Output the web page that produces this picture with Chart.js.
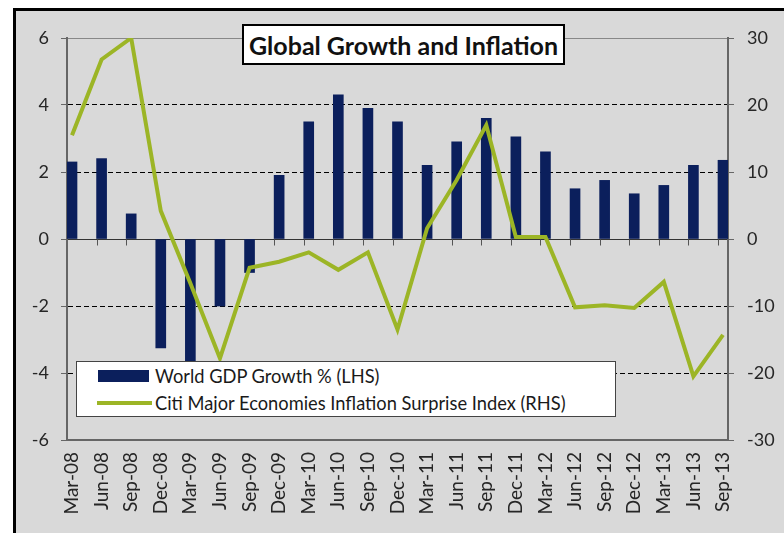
<!DOCTYPE html>
<html>
<head>
<meta charset="utf-8">
<title>Global Growth and Inflation</title>
<script src="https://cdn.jsdelivr.net/npm/chart.js@4.4.1/dist/chart.umd.min.js"></script>
<style>
    html, body { margin: 0; padding: 0; background: #fff; }
    body { width: 784px; height: 533px; position: relative; overflow: hidden; font-family: Lato, sans-serif; }
    .frame {
        position: absolute; left: 13px; top: 8px; width: 771px; height: 525px;
        border-left: 3px solid #000; border-top: 3px solid #000; background: #d9d9d9;
    }
    #chart { position: absolute; left: 16px; top: 11px; }
    .title-box {
        position: absolute; left: 242px; top: 24px; width: 319px; height: 37px;
        border: 2px solid #000; background: #fff;
        font: bold 25px Lato, sans-serif; color: #111;
        display: flex; align-items: center; justify-content: center;
    }
    .legend-box {
        position: absolute; left: 76px; top: 361px; width: 538px; height: 54px;
        border: 1px solid #444; background: #fff; font: 18.3px Lato, sans-serif; color: #1a1a1a;
    }
    .legend-row { position: absolute; left: 0; height: 24px; display: flex; align-items: center; }
    .swatch-bar  { position: absolute; left: 21px; width: 51px; height: 12px; background: #0b1f5c; }
    .swatch-line { position: absolute; left: 20px; width: 55px; height: 4px;  background: #9cb526; }
    .legend-row span { position: absolute; left: 78px; white-space: nowrap; }
</style>
</head>
<body>
<div class="frame"></div>
<canvas id="chart" width="768" height="522"></canvas>

<div class="title-box">Global Growth and Inflation</div>

<div class="legend-box">
    <div class="legend-row" style="top:2px;"><div class="swatch-bar"></div><span>World GDP Growth % (LHS)</span></div>
    <div class="legend-row" style="top:29px;"><div class="swatch-line"></div><span>Citi Major Economies Inflation Surprise Index (RHS)</span></div>
</div>

<script>
// ── DATA ──────────────────────────────────────────────────────────────────────
const quarters = [
    'Mar-08', 'Jun-08', 'Sep-08', 'Dec-08', 'Mar-09', 'Jun-09', 'Sep-09', 'Dec-09',
    'Mar-10', 'Jun-10', 'Sep-10', 'Dec-10', 'Mar-11', 'Jun-11', 'Sep-11', 'Dec-11',
    'Mar-12', 'Jun-12', 'Sep-12', 'Dec-12', 'Mar-13', 'Jun-13', 'Sep-13',
];

// World GDP growth, % (left axis)
const gdpGrowth = [
    2.3, 2.4, 0.75, -3.25, -3.8, -2.0, -1.0, 1.9,
    3.5, 4.3, 3.9, 3.5, 2.2, 2.9, 3.6, 3.05,
    2.6, 1.5, 1.75, 1.35, 1.6, 2.2, 2.35,
];

// Citi inflation surprise index (right axis)
const inflationSurprise = [
    15.5, 26.8, 30, 4.2, -6.6, -17.8, -4.3, -3.4,
    -2.0, -4.6, -2.0, -13.5, 1.6, 8.8, 17.0, 0.3,
    0.3, -10.2, -9.9, -10.3, -6.4, -20.5, -14.3,
];

const leftTicks  = [-6, -4, -2, 0, 2, 4, 6];
const rightTicks = [-30, -20, -10, 0, 10, 20, 30];

const NAVY  = '#0b1f5c';
const GREEN = '#9cb526';
const BAR_W = 10;

// half a bar (in quarters) of room at each end of the category axis
const X_PAD = 0.169;

// ── PLUGINS ───────────────────────────────────────────────────────────────────
// small tick marks hanging under the zero line, one at each bar's left edge
const zeroTicks = {
    id: 'zeroTicks',
    beforeDatasetsDraw(chart) {
        const { ctx, scales } = chart;
        const y0 = Math.round(scales.y.getPixelForValue(0)) + 0.5;
        ctx.save();
        ctx.strokeStyle = '#555';
        ctx.lineWidth = 1;
        ctx.beginPath();
        for (let i = 1; i < quarters.length; i++) {
            const x = Math.round(scales.x.getPixelForValue(i) - BAR_W / 2) + 0.5;
            ctx.moveTo(x, y0);
            ctx.lineTo(x, y0 + 6);
        }
        ctx.stroke();
        ctx.restore();
    },
};

// ── CHART ─────────────────────────────────────────────────────────────────────
Chart.defaults.font.family = 'Lato, sans-serif';
Chart.defaults.color = '#262626';

new Chart(document.getElementById('chart'), {
    data: {
        datasets: [
            {
                type: 'line',
                label: 'Citi Major Economies Inflation Surprise Index (RHS)',
                data: inflationSurprise.map((v, i) => ({ x: i, y: v })),
                yAxisID: 'y1',
                borderColor: GREEN,
                borderWidth: 4,
                pointRadius: 0,
                tension: 0,
                order: 0,
            },
            {
                type: 'bar',
                label: 'World GDP Growth % (LHS)',
                data: gdpGrowth.map((v, i) => ({ x: i, y: v })),
                yAxisID: 'y',
                backgroundColor: NAVY,
                barThickness: BAR_W,
                order: 1,
            },
        ],
    },
    options: {
        responsive: false,
        animation: false,
        devicePixelRatio: 1,
        layout: { padding: { top: 27, left: 0, right: 0, bottom: 0 } },
        plugins: { legend: { display: false }, tooltip: { enabled: false } },
        scales: {
            x: {
                type: 'linear',
                offset: false,
                min: -X_PAD,
                max: quarters.length - 1 + X_PAD,
                afterBuildTicks: (scale) => { scale.ticks = quarters.map((_, i) => ({ value: i })); },
                afterFit: (scale) => { scale.height = 93; },
                ticks: {
                    autoSkip: false,
                    minRotation: 90,
                    maxRotation: 90,
                    padding: 12,
                    font: { size: 19 },
                    callback: (v) => quarters[v],
                },
                grid: { display: false, drawTicks: false },
                border: { display: true, color: '#666', width: 2 },
            },
            y: {
                position: 'left',
                min: -6,
                max: 6,
                afterBuildTicks: (scale) => { scale.ticks = leftTicks.map(v => ({ value: v })); },
                afterFit: (scale) => { scale.width = 51; },
                ticks: { padding: 12, font: { size: 18 } },
                grid: {
                    color: (c) => {
                        const v = c.tick && c.tick.value;
                        if (v === 6 || v === -6) return '#888';
                        return v === 0 ? '#333' : '#000';
                    },
                    lineWidth: 1,
                    tickLength: 6,
                    tickColor: '#666',
                    tickBorderDash: [],
                },
                border: {
                    color: '#666',
                    width: 2,
                    dash: (c) => {
                        const v = c.tick && c.tick.value;
                        return (v === undefined || v === 0 || v === 6 || v === -6) ? [] : [5, 3];
                    },
                },
            },
            y1: {
                position: 'right',
                min: -30,
                max: 30,
                afterBuildTicks: (scale) => { scale.ticks = rightTicks.map(v => ({ value: v })); },
                afterFit: (scale) => { scale.width = 56; },
                ticks: { padding: 13, font: { size: 18 } },
                grid: { drawOnChartArea: false, tickLength: 6, tickColor: '#666' },
                border: { color: '#666', width: 2 },
            },
        },
    },
    plugins: [zeroTicks],
});
</script>
</body>
</html>
